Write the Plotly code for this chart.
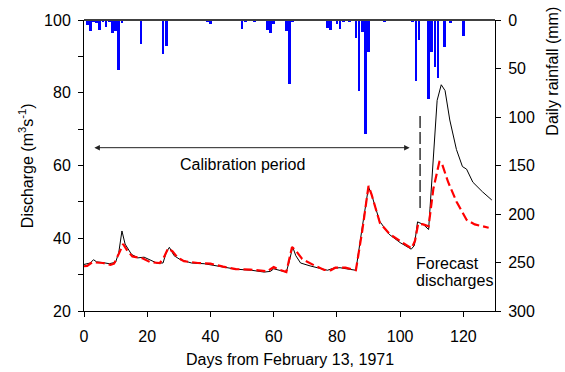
import plotly.graph_objects as go

# ---- Data ----
rain_day = [1, 2, 3, 4, 5, 6, 7, 8, 9, 10, 11, 12, 18, 25, 26, 39, 40, 50, 51, 54,
            58, 59, 60, 64, 65, 66, 77, 78, 80, 81, 82, 84, 86, 87, 88, 89, 90, 95,
            104, 105, 106, 109, 110, 111, 112, 114, 116, 120]
rain_mm = [5, 11, 2, 3, 10.5, 2, 7, 2, 13, 11, 52, 3, 24.5, 35.5, 27, 1.5, 4.5, 9, 2, 2,
           10, 13.5, 4.5, 11.5, 66, 2, 8.6, 10, 4.5, 9, 2, 2, 19, 73, 12, 118, 33, 2.5,
           1.5, 63, 21, 81, 33, 48, 60, 28, 3, 16]

obs_day = [0, 1, 2, 3, 4, 6, 8, 10, 11, 12, 13, 15, 17, 19, 21, 23, 25, 26, 27, 28.5,
           30.5, 34, 38, 42, 44, 48, 53, 57, 59, 60, 61.5, 64, 65, 66, 67, 68.5, 71.5,
           75, 77, 79, 81, 83, 86, 88, 90, 91, 93.5, 96.5, 100, 103.5, 104.5, 105.5,
           107.3, 109, 110.5, 111.7, 113, 114.2, 115.7, 117.8, 119.7, 121, 123, 126, 129]
obs_q = [32.8, 33.0, 33.2, 34.1, 33.5, 33.3, 33.0, 33.4, 36.1, 42.0, 38.4, 35.6, 34.6,
         34.8, 33.9, 33.2, 33.2, 36.1, 37.5, 35.2, 34.1, 33.2, 33.0, 32.5, 32.1, 31.5,
         31.2, 30.7, 30.9, 31.6, 31.2, 30.7, 33.9, 37.6, 35.2, 33.2, 32.4, 31.6, 31.2,
         31.8, 31.9, 31.6, 31.2, 43.0, 54.1, 51.9, 44.7, 41.1, 38.8, 37.0, 38.0, 44.5,
         43.8, 42.4, 60.8, 77.9, 82.2, 80.6, 72.5, 64.4, 59.7, 59.0, 55.4, 52.8, 50.5]

sim_day = [0, 1, 2.6, 4, 6, 8.4, 9.5, 11, 12.4, 13.7, 15.3, 18.5, 21, 24, 25.3, 26.6,
           28, 29.5, 31.6, 36, 40, 44, 48, 52.6, 58, 60, 61.6, 64, 65.8, 67, 69, 72.7,
           76, 78, 79.5, 82.7, 86, 88, 90, 91, 93.6, 96.7, 100, 103.6, 104.7, 105.7,
           107.3, 109, 110.5, 112.4, 113.1, 115.2, 117.8, 121, 123.6, 128]
sim_q = [32.3, 32.4, 33.4, 33.3, 33.2, 32.7, 33.0, 35.7, 38.4, 36.6, 35.0, 34.5, 33.4,
         33.2, 34.8, 37.2, 36.4, 34.8, 33.7, 33.2, 33.0, 32.2, 31.5, 31.4, 30.9, 32.1,
         31.4, 30.7, 37.6, 36.6, 34.3, 32.6, 31.3, 31.2, 31.9, 31.9, 31.2, 42.0, 54.4,
         51.9, 44.2, 41.1, 39.3, 37.2, 39.3, 44.0, 43.8, 43.3, 53.6, 61.0, 60.8, 55.4,
         50.1, 45.1, 43.8, 42.9]

x_ticks = [0, 20, 40, 60, 80, 100, 120]
q_ticks = [20, 40, 60, 80, 100]
rain_ticks = [0, 50, 100, 150, 200, 250, 300]

FONT = "Liberation Sans, Arial, sans-serif"

fig = go.Figure()
fig.add_trace(go.Bar(x=rain_day, y=rain_mm, width=0.85, yaxis="y2",
                     marker=dict(color="#0000FF", line=dict(width=0)),
                     showlegend=False))
fig.add_trace(go.Scatter(x=obs_day, y=obs_q, mode="lines",
                         line=dict(color="black", width=1), showlegend=False))
fig.add_trace(go.Scatter(x=sim_day, y=sim_q, mode="lines",
                         line=dict(color="#FF0000", width=2.2, dash="9px,4px"),
                         showlegend=False))

axis_common = dict(showline=True, linecolor="black", linewidth=1, ticks="outside",
                   ticklen=5, tickcolor="black", showgrid=False, zeroline=False,
                   tickfont=dict(size=16, color="black", family=FONT))

fig.update_layout(
    width=565, height=372,
    margin=dict(l=84, r=70, t=15, b=61),
    paper_bgcolor="white", plot_bgcolor="white",
    font=dict(family=FONT, size=16, color="black"),
    bargap=0,
    xaxis=dict(range=[0, 130], tickvals=x_ticks, ticklabelstandoff=6, **axis_common),
    yaxis=dict(range=[20, 100], tickvals=q_ticks, ticklabelstandoff=4,
               minor=dict(dtick=10, tick0=0, ticks="outside", ticklen=5,
                          tickcolor="black", showgrid=False),
               **axis_common),
    yaxis2=dict(range=[300, 0], tickvals=rain_ticks, overlaying="y", side="right",
                anchor="x", ticklabelstandoff=4, **axis_common),
)

# top frame line
fig.add_shape(type="line", xref="paper", yref="paper", x0=0, x1=1, y0=1, y1=1,
              line=dict(color="#404040", width=2))

# calibration period double arrow
fig.add_annotation(x=103, y=64.9, ax=2.8, ay=64.9, xref="x", yref="y", axref="x", ayref="y",
                   text="", showarrow=True, arrowhead=2, startarrowhead=2,
                   arrowside="end+start", arrowsize=1.1, arrowwidth=1, arrowcolor="#222222")
fig.add_annotation(x=50.2, y=60.3, xref="x", yref="y", text="Calibration period",
                   showarrow=False, font=dict(size=16))

# forecast start marker
fig.add_shape(type="line", xref="x", yref="y", x0=106.3, x1=106.3, y0=48.3, y1=74.6,
              line=dict(color="black", width=1.2, dash="12px,4px"))

fig.add_annotation(x=104.3, y=33.1, xref="x", yref="y", text="Forecast",
                   showarrow=False, xanchor="left", yanchor="middle", font=dict(size=16))
fig.add_annotation(x=104.3, y=28.3, xref="x", yref="y", text="discharges",
                   showarrow=False, xanchor="left", yanchor="middle", font=dict(size=16))

# axis titles
fig.add_annotation(x=0.5, y=-0.165, xref="paper", yref="paper",
                   text="Days from February 13, 1971", showarrow=False,
                   xanchor="center", yanchor="middle", font=dict(size=16))
fig.add_annotation(x=-0.142, y=0.5, xref="paper", yref="paper",
                   text="Discharge (m<sup>3</sup>s<sup>-1</sup>)", showarrow=False,
                   textangle=-90, xanchor="center", yanchor="middle", font=dict(size=16))
fig.add_annotation(x=1.139, y=0.823, xref="paper", yref="paper",
                   text="Daily rainfall (mm)", showarrow=False,
                   textangle=-90, xanchor="center", yanchor="middle", font=dict(size=16))

fig.write_html("out.html")
